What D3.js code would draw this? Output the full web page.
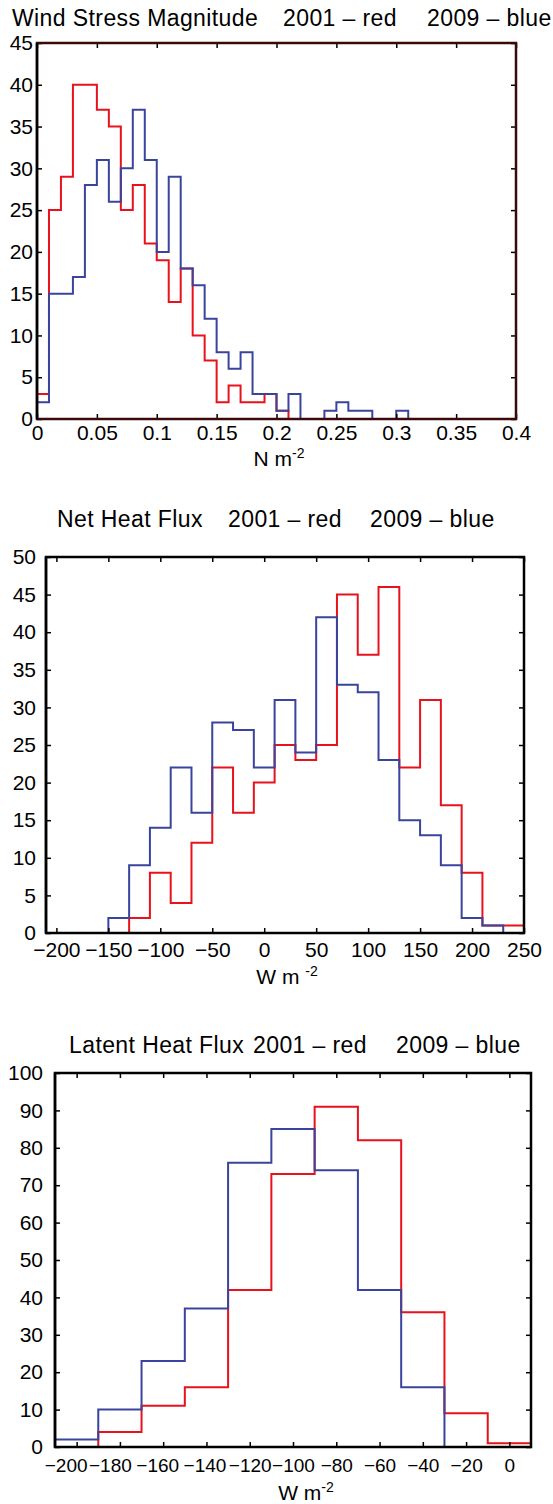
<!DOCTYPE html>
<html>
<head>
<meta charset="utf-8">
<script src="https://cdn.jsdelivr.net/npm/d3@7"></script>
<style>
  body { margin: 0; background: #fff; }
  text { font-family: "Liberation Sans", Arial, Helvetica, sans-serif; fill: #000; }
</style>
</head>
<body>
<div id="chart"></div>
<script>
// Data (counts per bin)
const windEdges = [0, 0.01, 0.02, 0.03, 0.04, 0.05, 0.06, 0.07, 0.08, 0.09, 0.1,
  0.11, 0.12, 0.13, 0.14, 0.15, 0.16, 0.17, 0.18, 0.19, 0.2,
  0.21, 0.22, 0.23, 0.24, 0.25, 0.26, 0.27, 0.28, 0.29, 0.3,
  0.31, 0.32, 0.33, 0.34, 0.35, 0.36, 0.37, 0.38, 0.39, 0.4]
const wind2001 = [3, 25, 29, 40, 40, 37, 35, 25, 28, 21, 19, 14, 18, 10, 7, 2, 4, 2, 2, 3,
  1, 0, 0, 0, 0, 0, 0, 0, 0, 0, 0, 0, 0, 0, 0, 0, 0, 0, 0, 0]
const wind2009 = [2, 15, 15, 17, 28, 31, 26, 30, 37, 31, 20, 29, 18, 16, 12, 8, 6, 8, 3, 3,
  1, 3, 0, 0, 1, 2, 1, 1, 0, 0, 1, 0, 0, 0, 0, 0, 0, 0, 0, 0]
const windXTicks = [0, 0.05, 0.1, 0.15, 0.2, 0.25, 0.3, 0.35, 0.4]
const windYTicks = [0, 5, 10, 15, 20, 25, 30, 35, 40, 45]

const netEdges = [-210, -190, -170, -150, -130, -110, -90, -70, -50, -30, -10, 10,
  30, 50, 70, 90, 110, 130, 150, 170, 190, 210, 230, 250]
const net2001 = [0, 0, 0, 0, 2, 8, 4, 12, 22, 16, 20, 25, 23, 25, 45, 37, 46, 22, 31, 17, 8, 1, 1]
const net2009 = [0, 0, 0, 2, 9, 14, 22, 16, 28, 27, 22, 31, 24, 42, 33, 32, 23, 15, 13, 9, 2, 1, 0]
const netXTicks = [-200, -150, -100, -50, 0, 50, 100, 150, 200, 250]
const netYTicks = [0, 5, 10, 15, 20, 25, 30, 35, 40, 45, 50]

const latEdges = [-210, -190, -170, -150, -130, -110, -90, -70, -50, -30, -10, 10]
const lat2001 = [0, 4, 11, 16, 42, 73, 91, 82, 36, 9, 1]
const lat2009 = [2, 10, 23, 37, 76, 85, 74, 42, 16, 0, 0]
const latXTicks = [-200, -180, -160, -140, -120, -100, -80, -60, -40, -20, 0]
const latYTicks = [0, 10, 20, 30, 40, 50, 60, 70, 80, 90, 100]

const RED = '#e8121c'
const BLUE = '#3a449c'

const svg = d3.select('#chart')
  .append('svg')
  .attr('width', 553)
  .attr('height', 1504)

svg.append('rect').attr('width', 553).attr('height', 1504).attr('fill', '#fff')

function panel(cfg) {
  const g = svg.append('g')

  const xScale = d3.scaleLinear().domain(cfg.xDomain).range([cfg.left, cfg.right])
  const yScale = d3.scaleLinear().domain(cfg.yDomain).range([cfg.bottom, cfg.top])

  // title pieces
  cfg.title.forEach(t => {
    g.append('text')
      .attr('x', t.x)
      .attr('y', cfg.titleY)
      .style('font-size', '23px')
      .style('letter-spacing', '0.4px')
      .text(t.text)
  })

  // histogram outlines (stairs)
  const line = d3.line()
    .x(d => xScale(d[0]))
    .y(d => yScale(d[1]))
    .curve(d3.curveStepAfter)

  cfg.series.forEach(s => {
    const pts = s.values.map((v, i) => [cfg.edges[i], v])
    pts.push([cfg.edges[cfg.edges.length - 1], s.values[s.values.length - 1]])
    g.append('path')
      .attr('d', line(pts))
      .attr('fill', 'none')
      .attr('stroke', s.color)
      .attr('stroke-width', 2)
  })

  // axes with inward ticks
  const xAxis = g.append('g')
    .attr('transform', `translate(0,${cfg.bottom})`)
    .call(d3.axisBottom(xScale).tickValues(cfg.xTicks).tickSizeInner(-5).tickSizeOuter(0)
      .tickPadding(cfg.xPad).tickFormat(cfg.xFormat))
  const yAxis = g.append('g')
    .attr('transform', `translate(${cfg.left},0)`)
    .call(d3.axisLeft(yScale).tickValues(cfg.yTicks).tickSizeInner(-5).tickSizeOuter(0)
      .tickPadding(cfg.yPad).tickFormat(d3.format('d')))
  const xTop = g.append('g')
    .attr('transform', `translate(0,${cfg.top})`)
    .call(d3.axisTop(xScale).tickValues(cfg.xTicks).tickSizeInner(-5).tickSizeOuter(0).tickFormat(''))
  const yRight = g.append('g')
    .attr('transform', `translate(${cfg.right},0)`)
    .call(d3.axisRight(yScale).tickValues(cfg.yTicks).tickSizeInner(-5).tickSizeOuter(0).tickFormat(''))

  ;[xAxis, yAxis, xTop, yRight].forEach(a => {
    a.select('.domain').remove()
    a.selectAll('line').attr('stroke', '#000').attr('stroke-width', 1.5)
    a.selectAll('text')
      .style('font-size', '21px')
      .style('font-family', '"Liberation Sans", Arial, sans-serif')
      .attr('fill', '#000')
  })
  xAxis.selectAll('text').style('font-size', cfg.xTickSize + 'px')
  // crowded labels at the left end sit a little further left, as in the picture
  if (cfg.labelShift) {
    xAxis.selectAll('.tick text').attr('dx', (d, i) => cfg.labelShift[i] || 0)
  }

  // frame
  g.append('rect')
    .attr('x', cfg.left)
    .attr('y', cfg.top)
    .attr('width', cfg.right - cfg.left)
    .attr('height', cfg.bottom - cfg.top)
    .attr('fill', 'none')
    .attr('stroke', cfg.frameColor)
    .attr('stroke-width', 2.5)
  g.append('line')
    .attr('x1', cfg.left).attr('x2', cfg.left)
    .attr('y1', cfg.top).attr('y2', cfg.bottom)
    .attr('stroke', '#000').attr('stroke-width', 2.5)

  // x label with superscript
  const lab = g.append('text')
    .attr('x', cfg.xLabelX)
    .attr('y', cfg.xLabelY)
    .attr('text-anchor', 'middle')
    .style('font-size', '21px')
  lab.append('tspan').text(cfg.xLabel)
  lab.append('tspan').attr('dy', -8).style('font-size', '14px').text('-2')
}

panel({
  left: 37, right: 516, top: 43, bottom: 419,
  xDomain: [0, 0.4], yDomain: [0, 45],
  edges: windEdges,
  series: [{ values: wind2001, color: RED }, { values: wind2009, color: BLUE }],
  xTicks: windXTicks, yTicks: windYTicks,
  xFormat: d3.format('~g'), xPad: 6, yPad: 4, xTickSize: 21,
  title: [{ text: 'Wind Stress Magnitude', x: 12 }, { text: '2001 – red', x: 283 }, { text: '2009 – blue', x: 427 }],
  titleY: 26,
  frameColor: '#3a0a0a',
  xLabel: 'N m', xLabelX: 279, xLabelY: 466
})

panel({
  left: 46, right: 524, top: 557, bottom: 933,
  xDomain: [-210, 250], yDomain: [0, 50],
  edges: netEdges,
  series: [{ values: net2001, color: RED }, { values: net2009, color: BLUE }],
  xTicks: netXTicks, yTicks: netYTicks,
  xFormat: d3.format('d'), xPad: 9, yPad: 10, xTickSize: 21,
  title: [{ text: 'Net Heat Flux', x: 57 }, { text: '2001 – red', x: 228 }, { text: '2009 – blue', x: 370 }],
  titleY: 527,
  frameColor: '#000',
  xLabel: 'W m ', xLabelX: 287, xLabelY: 984
})

panel({
  left: 55, right: 531, top: 1073, bottom: 1447,
  xDomain: [-210, 10], yDomain: [0, 100],
  edges: latEdges,
  series: [{ values: lat2001, color: RED }, { values: lat2009, color: BLUE }],
  xTicks: latXTicks, yTicks: latYTicks,
  xFormat: d3.format('d'), xPad: 12, yPad: 12, xTickSize: 19,
  labelShift: [-11, -10, -6, -2],
  title: [{ text: 'Latent Heat Flux', x: 69 }, { text: '2001 – red', x: 253 }, { text: '2009 – blue', x: 396 }],
  titleY: 1053,
  frameColor: '#000',
  xLabel: 'W m', xLabelX: 306, xLabelY: 1500
})
</script>
</body>
</html>
